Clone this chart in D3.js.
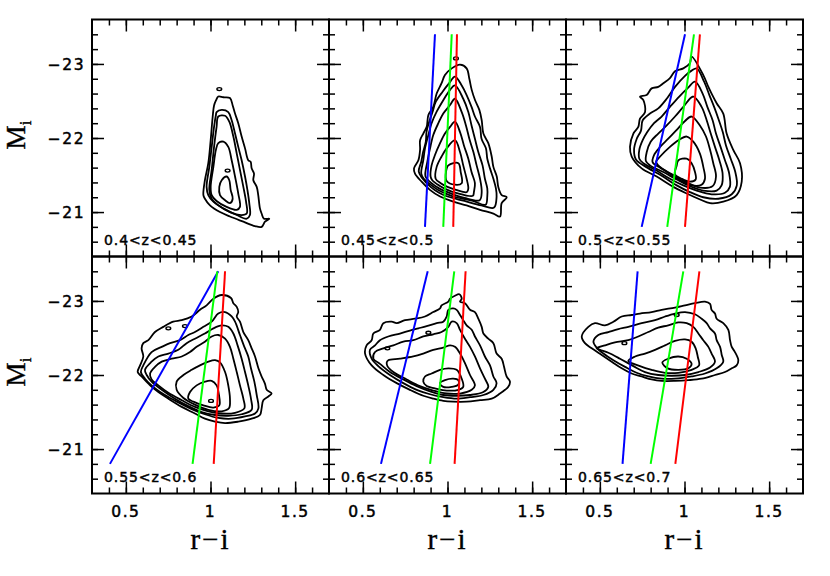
<!DOCTYPE html>
<html lang="en">
<head>
<meta charset="utf-8">
<title>r-i vs M_i contours in redshift slices</title>
<script src="https://d3js.org/d3.v7.min.js"></script>
<style>
  body { margin: 0; background: #fff; }
</style>
</head>
<body>
<script>

// panel labels (redshift slices)
var zLabels = ["0.4<z<0.45", "0.45<z<0.5", "0.5<z<0.55", "0.55<z<0.6", "0.6<z<0.65", "0.65<z<0.7"];

// axis ticks
var xMajor = [0.5, 1, 1.5];
var xTickLabels = ["0.5", "1", "1.5"];
var xMinor = [0.4, 0.5, 0.6, 0.7, 0.8, 0.9, 1.0, 1.1, 1.2, 1.3, 1.4, 1.5, 1.6];
var yMajor = [-23, -22, -21];
var yTickLabels = ["\u221223", "\u221222", "\u221221"];
var yMinor = [-23.4, -23.2, -23.0, -22.8, -22.6, -22.4, -22.2, -22.0, -21.8, -21.6, -21.4, -21.2, -21.0, -20.8, -20.6];

// colour-cut lines: r-i at M_i = -20.8 and at M_i = -23.4
var lineMags = [-20.8, -23.4];
var blueLines  = [null, [0.867, 0.926], [0.747, 1.003], [0.406, 1.046], [0.607, 0.883], [0.634, 0.723]];
var greenLines = [null, [0.975, 1.025], [0.898, 1.056], [0.894, 1.040], [0.897, 1.040], [0.800, 0.993]];
var redLines   = [null, [1.034, 1.056], [1.003, 1.091], [1.019, 1.086], [1.042, 1.107], [0.946, 1.088]];

// density contours, [r-i, M_i] per vertex, outermost first
var contours1 = [
  [[1.033,-22.51],[1.046,-22.56],[1.076,-22.55],[1.115,-22.54],[1.131,-22.44],[1.145,-22.33],[1.164,-22.20],[1.184,-22.02],[1.204,-21.86],[1.223,-21.70],[1.237,-21.68],[1.243,-21.59],[1.257,-21.52],[1.253,-21.43],[1.273,-21.34],[1.282,-21.23],[1.292,-21.05],[1.302,-20.98],[1.316,-20.91],[1.347,-20.91],[1.322,-20.87],[1.302,-20.80],[1.263,-20.81],[1.194,-20.87],[1.115,-20.94],[1.056,-21.00],[0.997,-21.09],[0.967,-21.18],[0.958,-21.23],[0.967,-21.43],[0.987,-21.66],[1.001,-21.97],[1.013,-22.29],[1.021,-22.44]],
  [[1.036,-22.35],[1.066,-22.38],[1.105,-22.35],[1.125,-22.24],[1.145,-22.06],[1.164,-21.88],[1.184,-21.70],[1.204,-21.48],[1.218,-21.30],[1.229,-21.12],[1.233,-20.96],[1.214,-20.91],[1.155,-20.96],[1.076,-21.05],[1.017,-21.14],[0.987,-21.23],[0.977,-21.34],[0.993,-21.61],[1.007,-21.88],[1.021,-22.15],[1.032,-22.31]],
  [[1.046,-22.29],[1.086,-22.30],[1.111,-22.22],[1.135,-22.02],[1.155,-21.79],[1.174,-21.57],[1.194,-21.34],[1.210,-21.14],[1.214,-20.98],[1.184,-20.96],[1.115,-21.00],[1.046,-21.09],[1.007,-21.18],[0.993,-21.30],[1.007,-21.57],[1.021,-21.88],[1.036,-22.15]],
  [[1.046,-21.93],[1.076,-21.95],[1.105,-21.88],[1.125,-21.70],[1.145,-21.48],[1.164,-21.25],[1.174,-21.07],[1.155,-21.03],[1.095,-21.07],[1.036,-21.15],[1.007,-21.23],[1.001,-21.34],[1.017,-21.61],[1.032,-21.84]],
  [[1.066,-21.43],[1.095,-21.48],[1.111,-21.43],[1.119,-21.30],[1.131,-21.18],[1.115,-21.12],[1.086,-21.16],[1.056,-21.23],[1.052,-21.34]]
];
var contours2 = [
  [[1.025,-22.94],[1.074,-22.99],[1.113,-22.94],[1.129,-22.80],[1.143,-22.65],[1.163,-22.51],[1.188,-22.38],[1.202,-22.24],[1.212,-22.06],[1.241,-21.93],[1.261,-21.75],[1.271,-21.61],[1.291,-21.48],[1.300,-21.34],[1.320,-21.23],[1.350,-21.20],[1.320,-21.12],[1.310,-20.94],[1.271,-20.98],[1.192,-21.03],[1.113,-21.09],[1.035,-21.14],[0.956,-21.21],[0.896,-21.30],[0.847,-21.41],[0.808,-21.52],[0.802,-21.59],[0.828,-21.70],[0.838,-21.84],[0.838,-21.97],[0.857,-22.06],[0.877,-22.15],[0.887,-22.31],[0.916,-22.42],[0.936,-22.60],[0.965,-22.74],[0.985,-22.85]],
  [[1.044,-22.83],[1.084,-22.71],[1.113,-22.58],[1.142,-22.42],[1.162,-22.29],[1.192,-22.15],[1.201,-21.99],[1.227,-21.86],[1.235,-21.72],[1.251,-21.59],[1.271,-21.45],[1.286,-21.32],[1.290,-21.21],[1.275,-21.06],[1.200,-21.09],[1.100,-21.15],[1.000,-21.21],[0.950,-21.26],[0.900,-21.34],[0.850,-21.46],[0.830,-21.55],[0.845,-21.68],[0.856,-21.81],[0.872,-21.95],[0.876,-22.08],[0.892,-22.22],[0.912,-22.355],[0.931,-22.49],[0.971,-22.625],[1.010,-22.74]],
  [[1.044,-22.71],[1.093,-22.53],[1.123,-22.35],[1.142,-22.17],[1.162,-21.99],[1.182,-21.81],[1.207,-21.63],[1.221,-21.45],[1.235,-21.32],[1.235,-21.21],[1.225,-21.10],[1.150,-21.15],[1.050,-21.20],[1.000,-21.24],[0.950,-21.29],[0.900,-21.37],[0.860,-21.45],[0.845,-21.52],[0.857,-21.70],[0.867,-21.86],[0.887,-22.04],[0.906,-22.20],[0.936,-22.355],[0.975,-22.51],[1.015,-22.65]],
  [[1.044,-22.53],[1.084,-22.35],[1.109,-22.17],[1.129,-21.99],[1.153,-21.81],[1.172,-21.63],[1.192,-21.45],[1.202,-21.27],[1.190,-21.16],[1.100,-21.19],[1.000,-21.27],[0.950,-21.32],[0.900,-21.40],[0.870,-21.48],[0.881,-21.68],[0.897,-21.86],[0.916,-22.04],[0.946,-22.20],[0.975,-22.33],[1.015,-22.445]],
  [[1.044,-22.22],[1.074,-22.08],[1.097,-21.90],[1.123,-21.72],[1.142,-21.54],[1.162,-21.39],[1.156,-21.27],[1.150,-21.22],[1.050,-21.26],[1.000,-21.30],[0.950,-21.36],[0.910,-21.43],[0.900,-21.48],[0.906,-21.63],[0.926,-21.77],[0.956,-21.93],[0.985,-22.06],[1.015,-22.15]],
  [[1.044,-21.97],[1.074,-21.81],[1.093,-21.63],[1.113,-21.45],[1.123,-21.32],[1.115,-21.27],[1.050,-21.30],[1.000,-21.34],[0.960,-21.39],[0.930,-21.45],[0.936,-21.61],[0.965,-21.75],[0.995,-21.86]],
  [[1.005,-21.63],[1.064,-21.66],[1.078,-21.54],[1.084,-21.39],[1.044,-21.37],[0.995,-21.42],[0.991,-21.54]]
];
var contours3 = [
  [[1.042,-23.10],[1.111,-22.85],[1.141,-22.69],[1.160,-22.60],[1.190,-22.47],[1.229,-22.33],[1.249,-22.06],[1.288,-21.84],[1.328,-21.66],[1.338,-21.41],[1.308,-21.23],[1.229,-21.14],[1.151,-21.12],[1.092,-21.17],[1.013,-21.25],[0.934,-21.34],[0.836,-21.48],[0.747,-21.59],[0.688,-21.75],[0.678,-21.88],[0.698,-22.06],[0.727,-22.15],[0.737,-22.26],[0.767,-22.35],[0.757,-22.51],[0.737,-22.56],[0.776,-22.58],[0.806,-22.67],[0.845,-22.69],[0.875,-22.74],[0.914,-22.81],[0.944,-22.90],[0.993,-22.94],[1.032,-23.01]],
  [[1.072,-22.94],[1.116,-22.76],[1.147,-22.58],[1.175,-22.42],[1.200,-22.26],[1.226,-22.08],[1.245,-21.90],[1.273,-21.72],[1.300,-21.54],[1.309,-21.36],[1.279,-21.24],[1.200,-21.18],[1.111,-21.20],[1.032,-21.27],[0.954,-21.36],[0.865,-21.49],[0.780,-21.60],[0.713,-21.71],[0.702,-21.84],[0.718,-21.99],[0.743,-22.10],[0.753,-22.24],[0.796,-22.33],[0.845,-22.40],[0.895,-22.53],[0.944,-22.69],[1.003,-22.84],[1.042,-22.91]],
  [[1.062,-22.76],[1.107,-22.60],[1.135,-22.42],[1.166,-22.24],[1.186,-22.06],[1.213,-21.88],[1.239,-21.70],[1.264,-21.52],[1.268,-21.34],[1.239,-21.26],[1.160,-21.24],[1.072,-21.29],[0.993,-21.36],[0.914,-21.45],[0.835,-21.56],[0.757,-21.66],[0.733,-21.72],[0.733,-21.84],[0.753,-21.97],[0.780,-22.08],[0.820,-22.20],[0.865,-22.29],[0.914,-22.42],[0.969,-22.56],[1.022,-22.68]],
  [[1.052,-22.56],[1.101,-22.42],[1.131,-22.24],[1.155,-22.06],[1.180,-21.88],[1.206,-21.70],[1.225,-21.52],[1.219,-21.36],[1.190,-21.29],[1.111,-21.29],[1.032,-21.35],[0.954,-21.44],[0.875,-21.54],[0.796,-21.63],[0.772,-21.69],[0.777,-21.81],[0.800,-21.95],[0.845,-22.06],[0.895,-22.17],[0.944,-22.29],[0.993,-22.42]],
  [[1.042,-22.29],[1.091,-22.17],[1.127,-22.02],[1.151,-21.84],[1.170,-21.66],[1.186,-21.48],[1.166,-21.35],[1.091,-21.33],[1.013,-21.40],[0.934,-21.50],[0.856,-21.60],[0.812,-21.67],[0.820,-21.77],[0.856,-21.88],[0.904,-21.99],[0.954,-22.11],[1.003,-22.23]],
  [[1.013,-22.02],[1.052,-21.95],[1.091,-21.79],[1.111,-21.61],[1.121,-21.45],[1.101,-21.37],[1.042,-21.36],[0.973,-21.43],[0.904,-21.53],[0.845,-21.63],[0.832,-21.68],[0.856,-21.75],[0.914,-21.88],[0.964,-21.97]],
  [[0.964,-21.70],[1.013,-21.72],[1.042,-21.66],[1.062,-21.54],[1.066,-21.44],[1.032,-21.41],[0.983,-21.45],[0.944,-21.51],[0.954,-21.63]]
];
var contours4 = [
  [[1.017,-23.03],[1.066,-23.08],[1.121,-23.04],[1.135,-22.97],[1.155,-22.92],[1.164,-22.85],[1.155,-22.79],[1.174,-22.72],[1.194,-22.58],[1.223,-22.47],[1.243,-22.36],[1.263,-22.25],[1.283,-22.09],[1.302,-21.98],[1.322,-21.88],[1.332,-21.80],[1.361,-21.75],[1.342,-21.71],[1.312,-21.66],[1.302,-21.55],[1.292,-21.46],[1.243,-21.41],[1.164,-21.37],[1.086,-21.35],[1.027,-21.37],[0.967,-21.41],[0.908,-21.48],[0.830,-21.57],[0.751,-21.68],[0.692,-21.77],[0.643,-21.86],[0.593,-21.98],[0.570,-22.04],[0.584,-22.13],[0.603,-22.25],[0.593,-22.36],[0.603,-22.43],[0.633,-22.47],[0.672,-22.58],[0.721,-22.65],[0.780,-22.72],[0.830,-22.74],[0.889,-22.79],[0.938,-22.88],[0.977,-22.94]],
  [[0.603,-22.13],[0.652,-22.31],[0.712,-22.38],[0.761,-22.43],[0.820,-22.47],[0.869,-22.54],[0.908,-22.58],[0.958,-22.65],[1.007,-22.72],[1.046,-22.83],[1.086,-22.85],[1.125,-22.79],[1.145,-22.72],[1.174,-22.54],[1.200,-22.38],[1.223,-22.25],[1.239,-22.09],[1.259,-21.91],[1.273,-21.73],[1.283,-21.55],[1.263,-21.48],[1.204,-21.44],[1.125,-21.41],[1.046,-21.42],[0.967,-21.47],[0.889,-21.54],[0.810,-21.63],[0.731,-21.73],[0.662,-21.84],[0.613,-21.95],[0.589,-22.04]],
  [[0.613,-22.07],[0.652,-22.18],[0.692,-22.25],[0.751,-22.29],[0.810,-22.34],[0.859,-22.43],[0.908,-22.49],[0.967,-22.56],[1.017,-22.63],[1.066,-22.67],[1.105,-22.65],[1.135,-22.56],[1.160,-22.40],[1.184,-22.22],[1.204,-22.04],[1.223,-21.86],[1.239,-21.68],[1.243,-21.53],[1.184,-21.47],[1.105,-21.45],[1.027,-21.46],[0.948,-21.50],[0.869,-21.58],[0.790,-21.68],[0.712,-21.80],[0.652,-21.91],[0.623,-22.00]],
  [[0.643,-22.02],[0.672,-22.11],[0.712,-22.18],[0.771,-22.22],[0.830,-22.25],[0.879,-22.31],[0.918,-22.38],[0.967,-22.45],[1.007,-22.52],[1.046,-22.54],[1.086,-22.49],[1.115,-22.38],[1.135,-22.22],[1.155,-22.04],[1.174,-21.86],[1.194,-21.68],[1.200,-21.55],[1.145,-21.49],[1.066,-21.48],[0.987,-21.51],[0.908,-21.57],[0.830,-21.66],[0.751,-21.76],[0.692,-21.86],[0.652,-21.94]],
  [[0.800,-21.91],[0.840,-22.00],[0.889,-22.07],[0.938,-22.13],[0.987,-22.18],[1.027,-22.20],[1.056,-22.17],[1.086,-22.04],[1.105,-21.86],[1.115,-21.68],[1.109,-21.55],[1.066,-21.51],[0.987,-21.53],[0.908,-21.60],[0.840,-21.69],[0.800,-21.80]],
  [[0.869,-21.68],[0.879,-21.77],[0.918,-21.86],[0.967,-21.91],[1.007,-21.92],[1.036,-21.86],[1.050,-21.73],[1.052,-21.59],[1.017,-21.56],[0.958,-21.59],[0.899,-21.64]]
];
var contours5 = [
  [[1.044,-23.07],[1.070,-23.09],[1.084,-23.03],[1.074,-22.99],[1.103,-22.97],[1.133,-22.88],[1.162,-22.85],[1.182,-22.76],[1.202,-22.65],[1.212,-22.56],[1.241,-22.49],[1.271,-22.43],[1.290,-22.29],[1.320,-22.22],[1.334,-22.11],[1.349,-21.98],[1.369,-21.91],[1.359,-21.84],[1.340,-21.80],[1.310,-21.75],[1.261,-21.68],[1.192,-21.66],[1.113,-21.64],[1.034,-21.64],[0.975,-21.65],[0.916,-21.68],[0.857,-21.72],[0.778,-21.80],[0.700,-21.89],[0.621,-22.00],[0.552,-22.13],[0.513,-22.29],[0.522,-22.40],[0.552,-22.47],[0.562,-22.56],[0.601,-22.61],[0.621,-22.70],[0.670,-22.72],[0.700,-22.70],[0.749,-22.74],[0.808,-22.76],[0.867,-22.79],[0.916,-22.85],[0.956,-22.90],[0.965,-22.94],[1.005,-22.99],[1.015,-23.03]],
  [[0.542,-22.34],[0.572,-22.40],[0.601,-22.47],[0.650,-22.52],[0.719,-22.56],[0.778,-22.60],[0.828,-22.63],[0.877,-22.66],[0.936,-22.70],[0.975,-22.72],[0.995,-22.79],[1.005,-22.88],[1.034,-22.90],[1.054,-22.88],[1.074,-22.81],[1.093,-22.74],[1.113,-22.67],[1.143,-22.61],[1.162,-22.52],[1.192,-22.40],[1.221,-22.25],[1.251,-22.13],[1.271,-21.98],[1.290,-21.89],[1.271,-21.80],[1.212,-21.73],[1.133,-21.70],[1.054,-21.68],[0.975,-21.70],[0.897,-21.74],[0.818,-21.80],[0.739,-21.89],[0.660,-22.00],[0.591,-22.12],[0.552,-22.22]],
  [[0.562,-22.22],[0.572,-22.31],[0.621,-22.36],[0.680,-22.40],[0.739,-22.45],[0.798,-22.47],[0.857,-22.52],[0.916,-22.55],[0.965,-22.58],[1.005,-22.65],[1.025,-22.72],[1.054,-22.70],[1.074,-22.61],[1.103,-22.49],[1.133,-22.38],[1.162,-22.25],[1.192,-22.09],[1.221,-21.95],[1.241,-21.84],[1.212,-21.77],[1.133,-21.73],[1.054,-21.72],[0.975,-21.73],[0.897,-21.78],[0.818,-21.85],[0.739,-21.94],[0.660,-22.04],[0.601,-22.15]],
  [[0.641,-22.17],[0.650,-22.20],[0.719,-22.22],[0.798,-22.25],[0.857,-22.29],[0.916,-22.34],[0.975,-22.37],[1.015,-22.40],[1.044,-22.38],[1.074,-22.29],[1.103,-22.16],[1.133,-22.00],[1.162,-21.86],[1.143,-21.80],[1.074,-21.75],[0.995,-21.75],[0.916,-21.79],[0.837,-21.85],[0.759,-21.94],[0.680,-22.04],[0.645,-22.12]],
  [[0.857,-21.91],[0.867,-21.98],[0.906,-22.02],[0.956,-22.07],[1.005,-22.09],[1.054,-22.07],[1.084,-21.95],[1.093,-21.84],[1.064,-21.80],[0.995,-21.79],[0.926,-21.82],[0.877,-21.85]],
  [[0.956,-21.89],[0.985,-21.93],[1.034,-21.95],[1.064,-21.93],[1.064,-21.87],[1.025,-21.84],[0.975,-21.84]]
];
var contours6 = [
  [[0.393,-22.52],[0.432,-22.65],[0.471,-22.70],[0.530,-22.67],[0.580,-22.72],[0.629,-22.79],[0.688,-22.81],[0.737,-22.83],[0.806,-22.85],[0.865,-22.88],[0.944,-22.91],[1.003,-22.94],[1.062,-22.97],[1.121,-22.99],[1.151,-22.96],[1.160,-22.88],[1.180,-22.83],[1.190,-22.76],[1.229,-22.70],[1.259,-22.61],[1.269,-22.47],[1.279,-22.38],[1.298,-22.31],[1.318,-22.20],[1.308,-22.13],[1.279,-22.09],[1.239,-22.04],[1.180,-22.00],[1.101,-21.95],[1.023,-21.93],[0.944,-21.92],[0.865,-21.92],[0.806,-21.94],[0.747,-21.98],[0.688,-22.02],[0.629,-22.09],[0.570,-22.18],[0.511,-22.27],[0.452,-22.36],[0.412,-22.43]],
  [[0.462,-22.45],[0.491,-22.54],[0.550,-22.58],[0.609,-22.62],[0.668,-22.65],[0.747,-22.70],[0.826,-22.74],[0.885,-22.79],[0.944,-22.83],[1.003,-22.85],[1.062,-22.82],[1.101,-22.76],[1.131,-22.70],[1.151,-22.63],[1.180,-22.56],[1.190,-22.47],[1.210,-22.38],[1.220,-22.27],[1.229,-22.18],[1.190,-22.09],[1.121,-22.02],[1.042,-21.98],[0.944,-21.95],[0.865,-21.95],[0.787,-21.98],[0.717,-22.03],[0.649,-22.11],[0.580,-22.20],[0.521,-22.29],[0.481,-22.37]],
  [[0.481,-22.36],[0.530,-22.40],[0.589,-22.44],[0.668,-22.47],[0.727,-22.52],[0.786,-22.58],[0.845,-22.64],[0.904,-22.67],[0.963,-22.71],[1.013,-22.70],[1.052,-22.65],[1.082,-22.56],[1.111,-22.47],[1.141,-22.38],[1.160,-22.29],[1.180,-22.18],[1.151,-22.10],[1.082,-22.04],[1.003,-22.00],[0.924,-21.99],[0.845,-22.00],[0.767,-22.04],[0.698,-22.12],[0.619,-22.22],[0.550,-22.30],[0.501,-22.34]],
  [[0.668,-22.19],[0.708,-22.25],[0.767,-22.29],[0.826,-22.34],[0.885,-22.40],[0.944,-22.46],[1.003,-22.48],[1.042,-22.45],[1.066,-22.36],[1.078,-22.25],[1.086,-22.13],[1.042,-22.07],[0.963,-22.03],[0.885,-22.03],[0.806,-22.07],[0.737,-22.12]],
  [[0.869,-22.17],[0.904,-22.22],[0.963,-22.25],[1.013,-22.22],[1.042,-22.15],[1.023,-22.09],[0.963,-22.07],[0.901,-22.09]]
];
var allContours = [contours1, contours2, contours3, contours4, contours5, contours6];

// isolated tiny contour islands, [r-i, M_i]
var spots = [
  [[1.052,-22.66],[1.101,-21.56]],
  [[1.050,-23.075]],
  [],
  [[0.751,-22.63],[0.849,-22.66],[1.003,-21.65]],
  [[0.887,-22.57],[0.645,-22.36]],
  [[0.645,-22.43],[0.954,-22.81]]
];

var W = 830, H = 576;
var panelW = 237, panelH = 237;
var lefts = [92, 329, 566];
var tops = [19.5, 256.5];

var svg = d3.select("body").append("svg")
  .attr("width", W).attr("height", H);
svg.append("rect").attr("width", W).attr("height", H).attr("fill", "#fff");

var x = d3.scaleLinear().domain([0.3, 1.7]).range([0, panelW]);
var y = d3.scaleLinear().domain([-23.6, -20.4]).range([0, panelH]);

var line = d3.line()
  .x(function(d) { return x(d[0]); })
  .y(function(d) { return y(d[1]); })
  .curve(d3.curveCatmullRomClosed.alpha(0.5));

function tickAxis(axisFn, scale, values, size) {
  return axisFn(scale).tickValues(values).tickSize(-size).tickFormat("");
}

// slightly heavier text, like the plotting package's stroked fonts
function heavy(sel, w) {
  return sel.attr("stroke", "#000").attr("stroke-width", w).attr("fill", "#000");
}

zLabels.forEach(function(label, i) {
  var col = i % 3, row = Math.floor(i / 3);
  var g = svg.append("g").attr("transform", "translate(" + lefts[col] + "," + tops[row] + ")");

  g.append("defs").append("clipPath").attr("id", "clip" + i)
    .append("rect").attr("width", panelW).attr("height", panelH);

  var plot = g.append("g").attr("clip-path", "url(#clip" + i + ")");

  // contours
  plot.selectAll("path.contour")
    .data(allContours[i])
    .enter().append("path")
    .attr("class", "contour")
    .attr("d", line)
    .attr("fill", "none")
    .attr("stroke", "#000")
    .attr("stroke-width", 1.8)
    .attr("stroke-linejoin", "round");

  plot.selectAll("ellipse.spot")
    .data(spots[i])
    .enter().append("ellipse")
    .attr("cx", function(d) { return x(d[0]); })
    .attr("cy", function(d) { return y(d[1]); })
    .attr("rx", 2.4).attr("ry", 1.5)
    .attr("fill", "none").attr("stroke", "#000").attr("stroke-width", 1.4);

  // colour cut lines
  [[blueLines, "#0000ff"], [greenLines, "#00ff00"], [redLines, "#ff0000"]].forEach(function(pair) {
    var l = pair[0][i];
    if (!l) return;
    plot.append("line")
      .attr("x1", x(l[0])).attr("y1", y(lineMags[0]))
      .attr("x2", x(l[1])).attr("y2", y(lineMags[1]))
      .attr("stroke", pair[1])
      .attr("stroke-width", 2);
  });

  // inward ticks on all four sides
  var axes = [
    [d3.axisBottom, x, [0, panelH], xMinor, 6],
    [d3.axisBottom, x, [0, panelH], xMajor, 12],
    [d3.axisTop, x, [0, 0], xMinor, 6],
    [d3.axisTop, x, [0, 0], xMajor, 12],
    [d3.axisLeft, y, [0, 0], yMinor, 6],
    [d3.axisLeft, y, [0, 0], yMajor, 12],
    [d3.axisRight, y, [panelW, 0], yMinor, 6],
    [d3.axisRight, y, [panelW, 0], yMajor, 12]
  ];
  axes.forEach(function(a) {
    var ag = g.append("g")
      .attr("transform", "translate(" + a[2][0] + "," + a[2][1] + ")")
      .call(tickAxis(a[0], a[1], a[3], a[4]));
    ag.select(".domain").remove();
    ag.selectAll(".tick line").attr("stroke", "#000").attr("stroke-width", 1.5);
  });

  g.append("rect")
    .attr("width", panelW).attr("height", panelH)
    .attr("fill", "none").attr("stroke", "#000").attr("stroke-width", 2);

  // panel label
  heavy(g.append("text")
    .attr("x", 12).attr("y", panelH - 11.5)
    .attr("font-family", "DejaVu Sans, sans-serif")
    .attr("font-size", 14)
    .attr("letter-spacing", 0.9)
    .text(label), 0.45);

  // tick labels
  if (col === 0) {
    heavy(g.selectAll("text.ylab")
      .data(yMajor)
      .enter().append("text")
      .attr("class", "ylab")
      .attr("x", -7).attr("y", function(d) { return y(d); })
      .attr("dy", "0.36em")
      .attr("text-anchor", "end")
      .attr("font-family", "DejaVu Sans, sans-serif")
      .attr("font-size", 15.5)
      .attr("letter-spacing", 1.5)
      .text(function(d, k) { return yTickLabels[k]; }), 0.5);

    var ylab = heavy(g.append("text")
      .attr("transform", "translate(" + (-67) + "," + (panelH / 2 - 3) + ") rotate(-90)")
      .attr("text-anchor", "middle")
      .attr("font-family", "Liberation Serif, serif")
      .attr("font-size", 27), 0.4);
    ylab.append("tspan").text("M");
    ylab.append("tspan").attr("font-size", 17).attr("dy", 6).text("i");
  }
  if (row === 1) {
    heavy(g.selectAll("text.xlab")
      .data(xMajor)
      .enter().append("text")
      .attr("class", "xlab")
      .attr("x", function(d) { return x(d); })
      .attr("y", panelH + 23.5)
      .attr("text-anchor", "middle")
      .attr("font-family", "DejaVu Sans, sans-serif")
      .attr("font-size", 15.5)
      .attr("letter-spacing", 1.5)
      .text(function(d, k) { return xTickLabels[k]; }), 0.5);

    heavy(g.append("text")
      .attr("x", panelW / 2).attr("y", panelH + 55)
      .attr("text-anchor", "middle")
      .attr("font-family", "Liberation Serif, serif")
      .attr("font-size", 29)
      .attr("letter-spacing", 2)
      .text("r\u2212i"), 0.4);
  }
});

</script>
</body>
</html>
